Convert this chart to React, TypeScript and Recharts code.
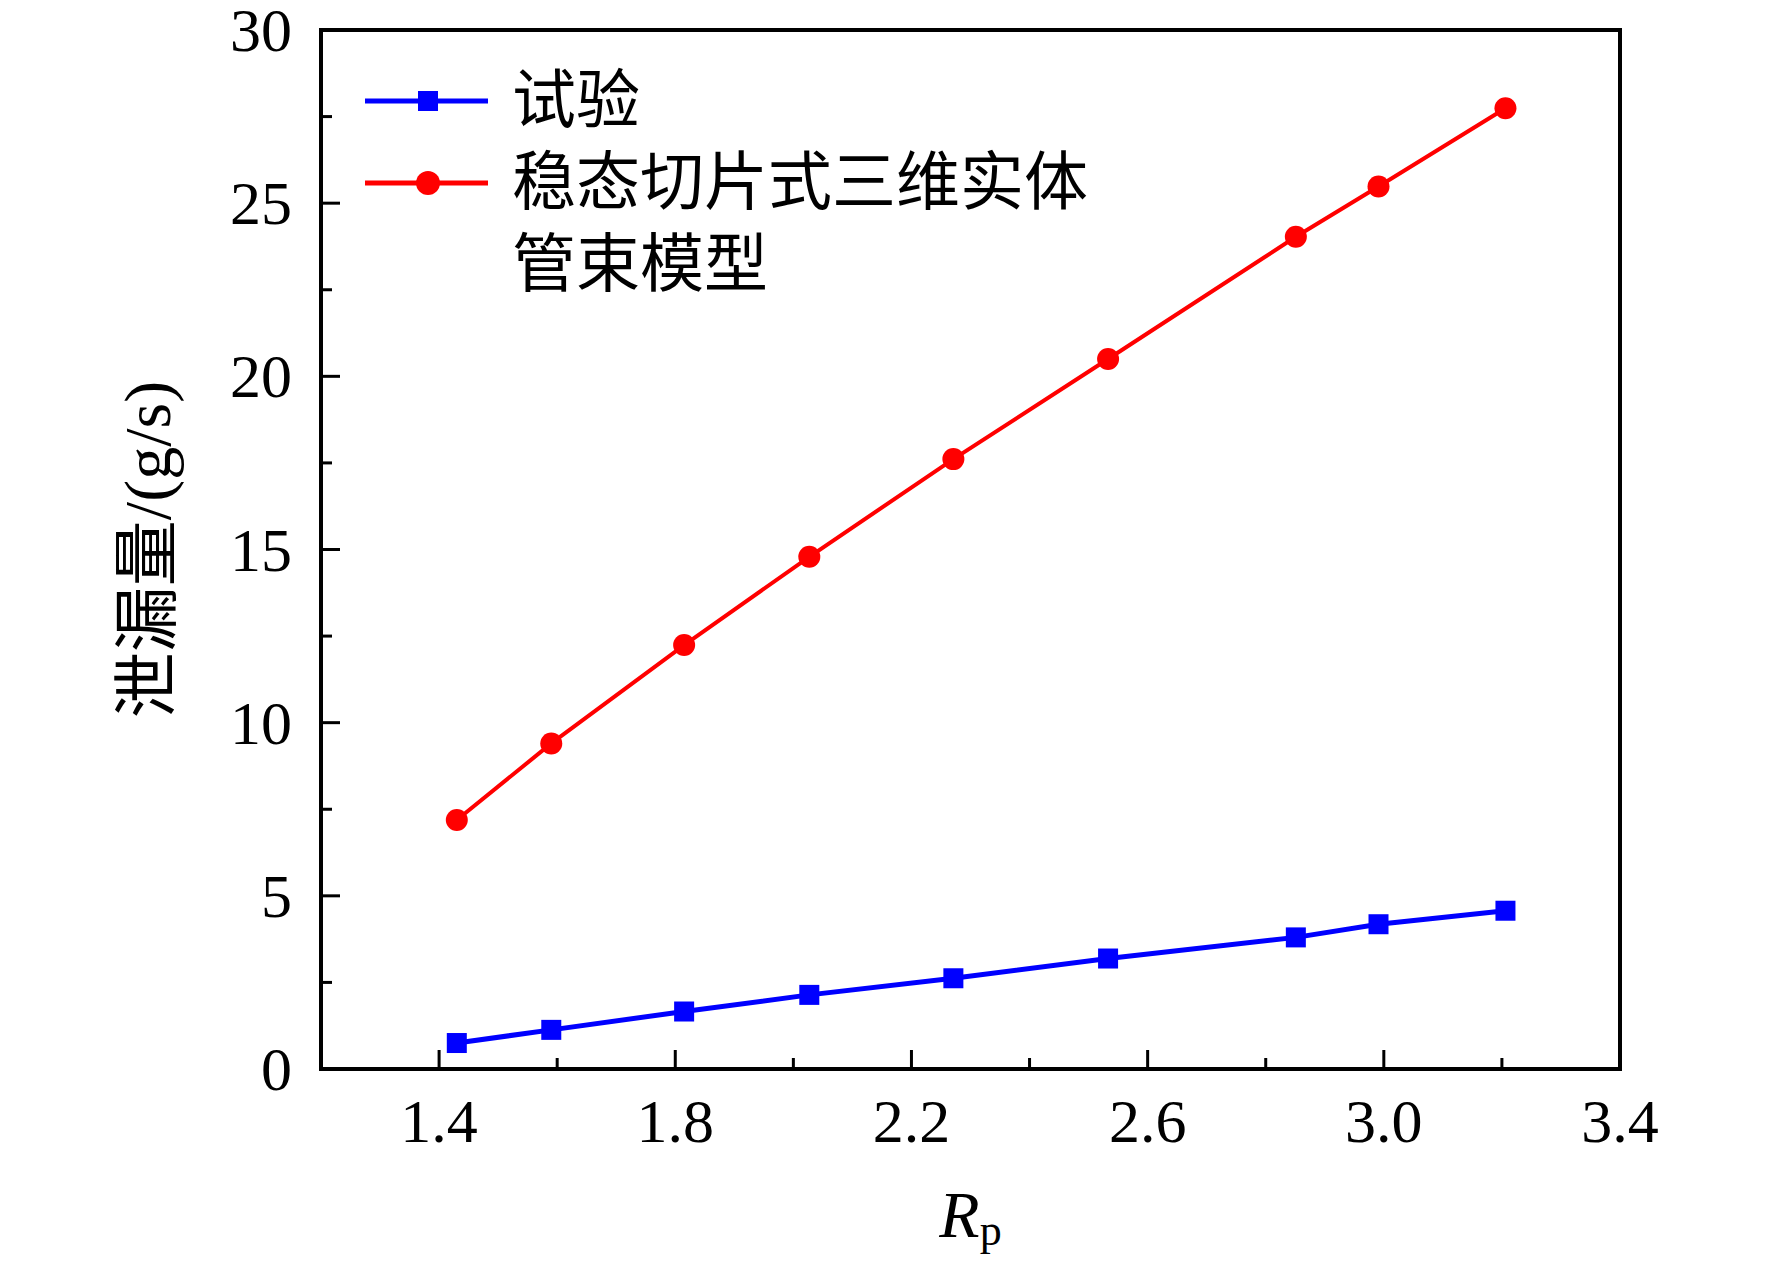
import { LineChart, Line, XAxis, YAxis, Legend, Label, ReferenceLine } from "recharts";

// Rp 值（横轴）
const rpValues = [1.43, 1.59, 1.815, 2.027, 2.271, 2.533, 2.851, 2.991, 3.206];
// 试验泄漏量 g/s
const testLeak = [0.75, 1.13, 1.66, 2.14, 2.62, 3.19, 3.8, 4.18, 4.57];
// 稳态切片式三维实体管束模型 g/s
const modelLeak = [7.19, 9.4, 12.24, 14.79, 17.61, 20.5, 24.03, 25.48, 27.74];

const xTicks = [1.4, 1.6, 1.8, 2.0, 2.2, 2.4, 2.6, 2.8, 3.0, 3.2, 3.4];
const xMajorTicks = [1.4, 1.8, 2.2, 2.6, 3.0, 3.4];
const yTicks = [0, 2.5, 5, 7.5, 10, 12.5, 15, 17.5, 20, 22.5, 25, 27.5, 30];
const yMajorTicks = [0, 5, 10, 15, 20, 25, 30];

// 图例顺序
const legendOrder = ["test", "model"];

const BLUE = "#0000ff";
const RED = "#ff0000";
const FONT = "'Liberation Serif', 'Noto Sans CJK SC', serif";

const chartData = rpValues.map((rp, i) => ({
  rp,
  test: testLeak[i],
  model: modelLeak[i],
}));

const XTick = (props: any) => {
  const { x, y, payload } = props;
  const major = xMajorTicks.includes(payload.value);
  return (
    <g>
      <line x1={x} x2={x} y1={y} y2={y - (major ? 19 : 11)} stroke="#000" strokeWidth={3} />
      {major && (
        <text x={x} y={y + 73} textAnchor="middle" fontSize={62} fontFamily={FONT} fill="#000">
          {payload.value.toFixed(1)}
        </text>
      )}
    </g>
  );
};

const YTick = (props: any) => {
  const { x, y, payload } = props;
  const major = yMajorTicks.includes(payload.value);
  return (
    <g>
      <line x1={x} x2={x + (major ? 19 : 11)} y1={y} y2={y} stroke="#000" strokeWidth={3} />
      {major && (
        <text x={x - 29} y={y + 21} textAnchor="end" fontSize={62} fontFamily={FONT} fill="#000">
          {payload.value}
        </text>
      )}
    </g>
  );
};

const SquareDot = (props: any) => {
  const { cx, cy, index } = props;
  return <rect key={`sq-${index}`} x={cx - 10} y={cy - 10} width={20} height={20} fill={BLUE} />;
};

const renderLegend = (props: any) => {
  const items = [...(props.payload || [])].sort(
    (a: any, b: any) => legendOrder.indexOf(a.dataKey) - legendOrder.indexOf(b.dataKey)
  );
  return (
    <div style={{ fontFamily: FONT, fontSize: 64, lineHeight: "82px", color: "#000" }}>
      {items.map((entry: any) => {
        const square = entry.dataKey === "test";
        return (
          <div key={entry.dataKey} style={{ display: "flex", alignItems: "flex-start" }}>
            <svg width={123} height={82} style={{ flex: "none" }}>
              <line x1={0} x2={123} y1={41} y2={41} stroke={entry.color} strokeWidth={5} />
              {square ? (
                <rect x={53} y={31} width={20} height={20} fill={entry.color} />
              ) : (
                <circle cx={63} cy={41} r={12} fill={entry.color} />
              )}
            </svg>
            <span style={{ marginLeft: 24, width: 600, display: "block" }}>{entry.value}</span>
          </div>
        );
      })}
    </div>
  );
};

export default function App() {
  return (
    <div style={{ position: "absolute", left: 0, top: 0, width: 1772, height: 1270, background: "#fff" }}>
      <LineChart
        width={1772}
        height={1270}
        data={chartData}
        margin={{ top: 30, right: 152, bottom: 0, left: 0 }}
      >
        <XAxis
          dataKey="rp"
          type="number"
          domain={[1.2, 3.4]}
          ticks={xTicks}
          interval={0}
          height={201}
          allowDataOverflow
          axisLine={{ stroke: "#000", strokeWidth: 4, strokeLinecap: "square" }}
          tickLine={false}
          tickSize={0}
          tickMargin={0}
          tick={<XTick />}
        >
          <Label
            content={(p: any) => {
              const vb = p.viewBox;
              return (
                <text
                  x={vb.x + vb.width / 2}
                  y={vb.y + 168}
                  textAnchor="middle"
                  fontFamily={FONT}
                  fill="#000"
                >
                  <tspan fontStyle="italic" fontSize={66}>R</tspan>
                  <tspan fontSize={44} dy={8}>p</tspan>
                </text>
              );
            }}
          />
        </XAxis>
        <YAxis
          type="number"
          domain={[0, 30]}
          ticks={yTicks}
          interval={0}
          width={321}
          allowDataOverflow
          axisLine={{ stroke: "#000", strokeWidth: 4, strokeLinecap: "square" }}
          tickLine={false}
          tickSize={0}
          tickMargin={0}
          tick={<YTick />}
        >
          <Label
            content={(p: any) => {
              const vb = p.viewBox;
              const cx = vb.x + 147;
              const cy = vb.y + vb.height / 2;
              return (
                <text
                  x={cx}
                  y={cy}
                  transform={`rotate(-90 ${cx} ${cy})`}
                  textAnchor="middle"
                  dominantBaseline="central"
                  fontSize={66}
                  fontFamily={FONT}
                  fill="#000"
                >
                  泄漏量/(g/s)
                </text>
              );
            }}
          />
        </YAxis>
        <ReferenceLine y={30} stroke="#000" strokeWidth={4} strokeLinecap="square" />
        <ReferenceLine x={3.4} stroke="#000" strokeWidth={4} strokeLinecap="square" />
        <Legend
          layout="vertical"
          verticalAlign="middle"
          align="center"
          content={renderLegend}
          wrapperStyle={{ left: 365, top: 60, width: 800 }}
        />
        <Line
          type="linear"
          dataKey="test"
          name="试验"
          stroke={BLUE}
          strokeWidth={5}
          dot={SquareDot}
          activeDot={false}
          isAnimationActive={false}
        />
        <Line
          type="linear"
          dataKey="model"
          name="稳态切片式三维实体管束模型"
          stroke={RED}
          strokeWidth={4}
          dot={{ r: 11, fill: RED, stroke: RED, strokeWidth: 0 }}
          activeDot={false}
          isAnimationActive={false}
        />
      </LineChart>
    </div>
  );
}
